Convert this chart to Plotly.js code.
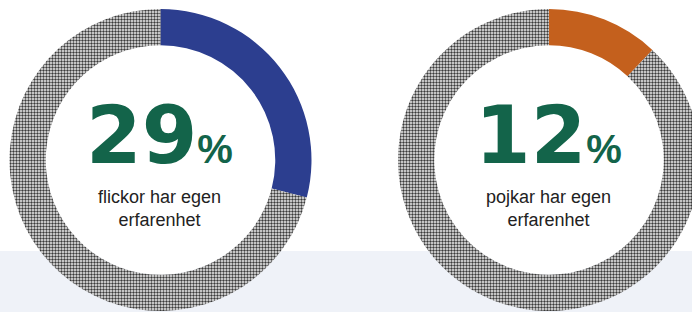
<!DOCTYPE html>
<html>
<head>
<meta charset="utf-8">
<script src="https://cdn.plot.ly/plotly-3.0.1.min.js"></script>
<style>
html,body{margin:0;padding:0;overflow:hidden;background:#ffffff;}
#chart{width:710px;height:312px;}
</style>
</head>
<body>
<div id="chart"></div>
<script>
// Data
const shares = [29, 12];                       // percent with own experience
const groups = ["flickor", "pojkar"];
const captions = ["flickor har egen<br>erfarenhet", "pojkar har egen<br>erfarenhet"];
const sliceLabels = ["Egen erfarenhet", "Övriga"];
const accentColors = ["#2c3e8f", "#c4601d"];

const W = 710, H = 312;
const centers = [160.5, 549];   // px
const cy = 160, R = 151, holeFrac = 0.76;

const traces = shares.map((s, i) => ({
  type: "pie",
  values: [s, 100 - s],
  labels: sliceLabels,
  sort: false,
  direction: "clockwise",
  rotation: 0,
  hole: holeFrac,
  textinfo: "none",
  hoverinfo: "label+percent",
  showlegend: false,
  marker: {
    colors: [accentColors[i], "#9a9a9a"],
    line: {width: 0},
    pattern: {shape: ["", "."], fgcolor: ["", "#3a3a3a"], bgcolor: ["", "#f4f4f4"], size: 3, solidity: 0.5}
  },
  domain: {
    x: [(centers[i] - R) / W, (centers[i] + R) / W],
    y: [(H - cy - R) / H, (H - cy + R) / H]
  }
}));

const shapes = [
  {type: "rect", xref: "paper", yref: "paper", x0: 0, x1: 1, y0: 0, y1: (H - 251) / H,
   fillcolor: "#eff2f8", line: {width: 0}, layer: "below"}
];
centers.forEach(cx => {
  const r = R * holeFrac;
  shapes.push({type: "circle", xref: "paper", yref: "paper",
    x0: (cx - r) / W, x1: (cx + r) / W, y0: (H - cy - r) / H, y1: (H - cy + r) / H,
    fillcolor: "#ffffff", line: {width: 0}, layer: "below"});
});

const annotations = [];
shares.forEach((s, i) => {
  annotations.push({
    xref: "paper", yref: "paper", x: (centers[i] - 1) / W, y: (H - 135) / H,
    xanchor: "center", yanchor: "middle", showarrow: false,
    text: s + "<span style='font-size:40px;font-family:Liberation Sans'>%</span>",
    font: {family: "DejaVu Sans", size: 80, color: "#13644a", weight: "bold"}
  });
  annotations.push({
    xref: "paper", yref: "paper", x: (centers[i] - 1) / W, y: (H - 208) / H,
    xanchor: "center", yanchor: "middle", showarrow: false,
    text: captions[i],
    font: {family: "Liberation Sans", size: 18, color: "#222222"}
  });
});

Plotly.newPlot("chart", traces, {
  width: W, height: H,
  margin: {l: 0, r: 0, t: 0, b: 0},
  paper_bgcolor: "rgba(0,0,0,0)",
  plot_bgcolor: "rgba(0,0,0,0)",
  shapes: shapes,
  annotations: annotations
}, {displayModeBar: false, staticPlot: true});
</script>
</body>
</html>
